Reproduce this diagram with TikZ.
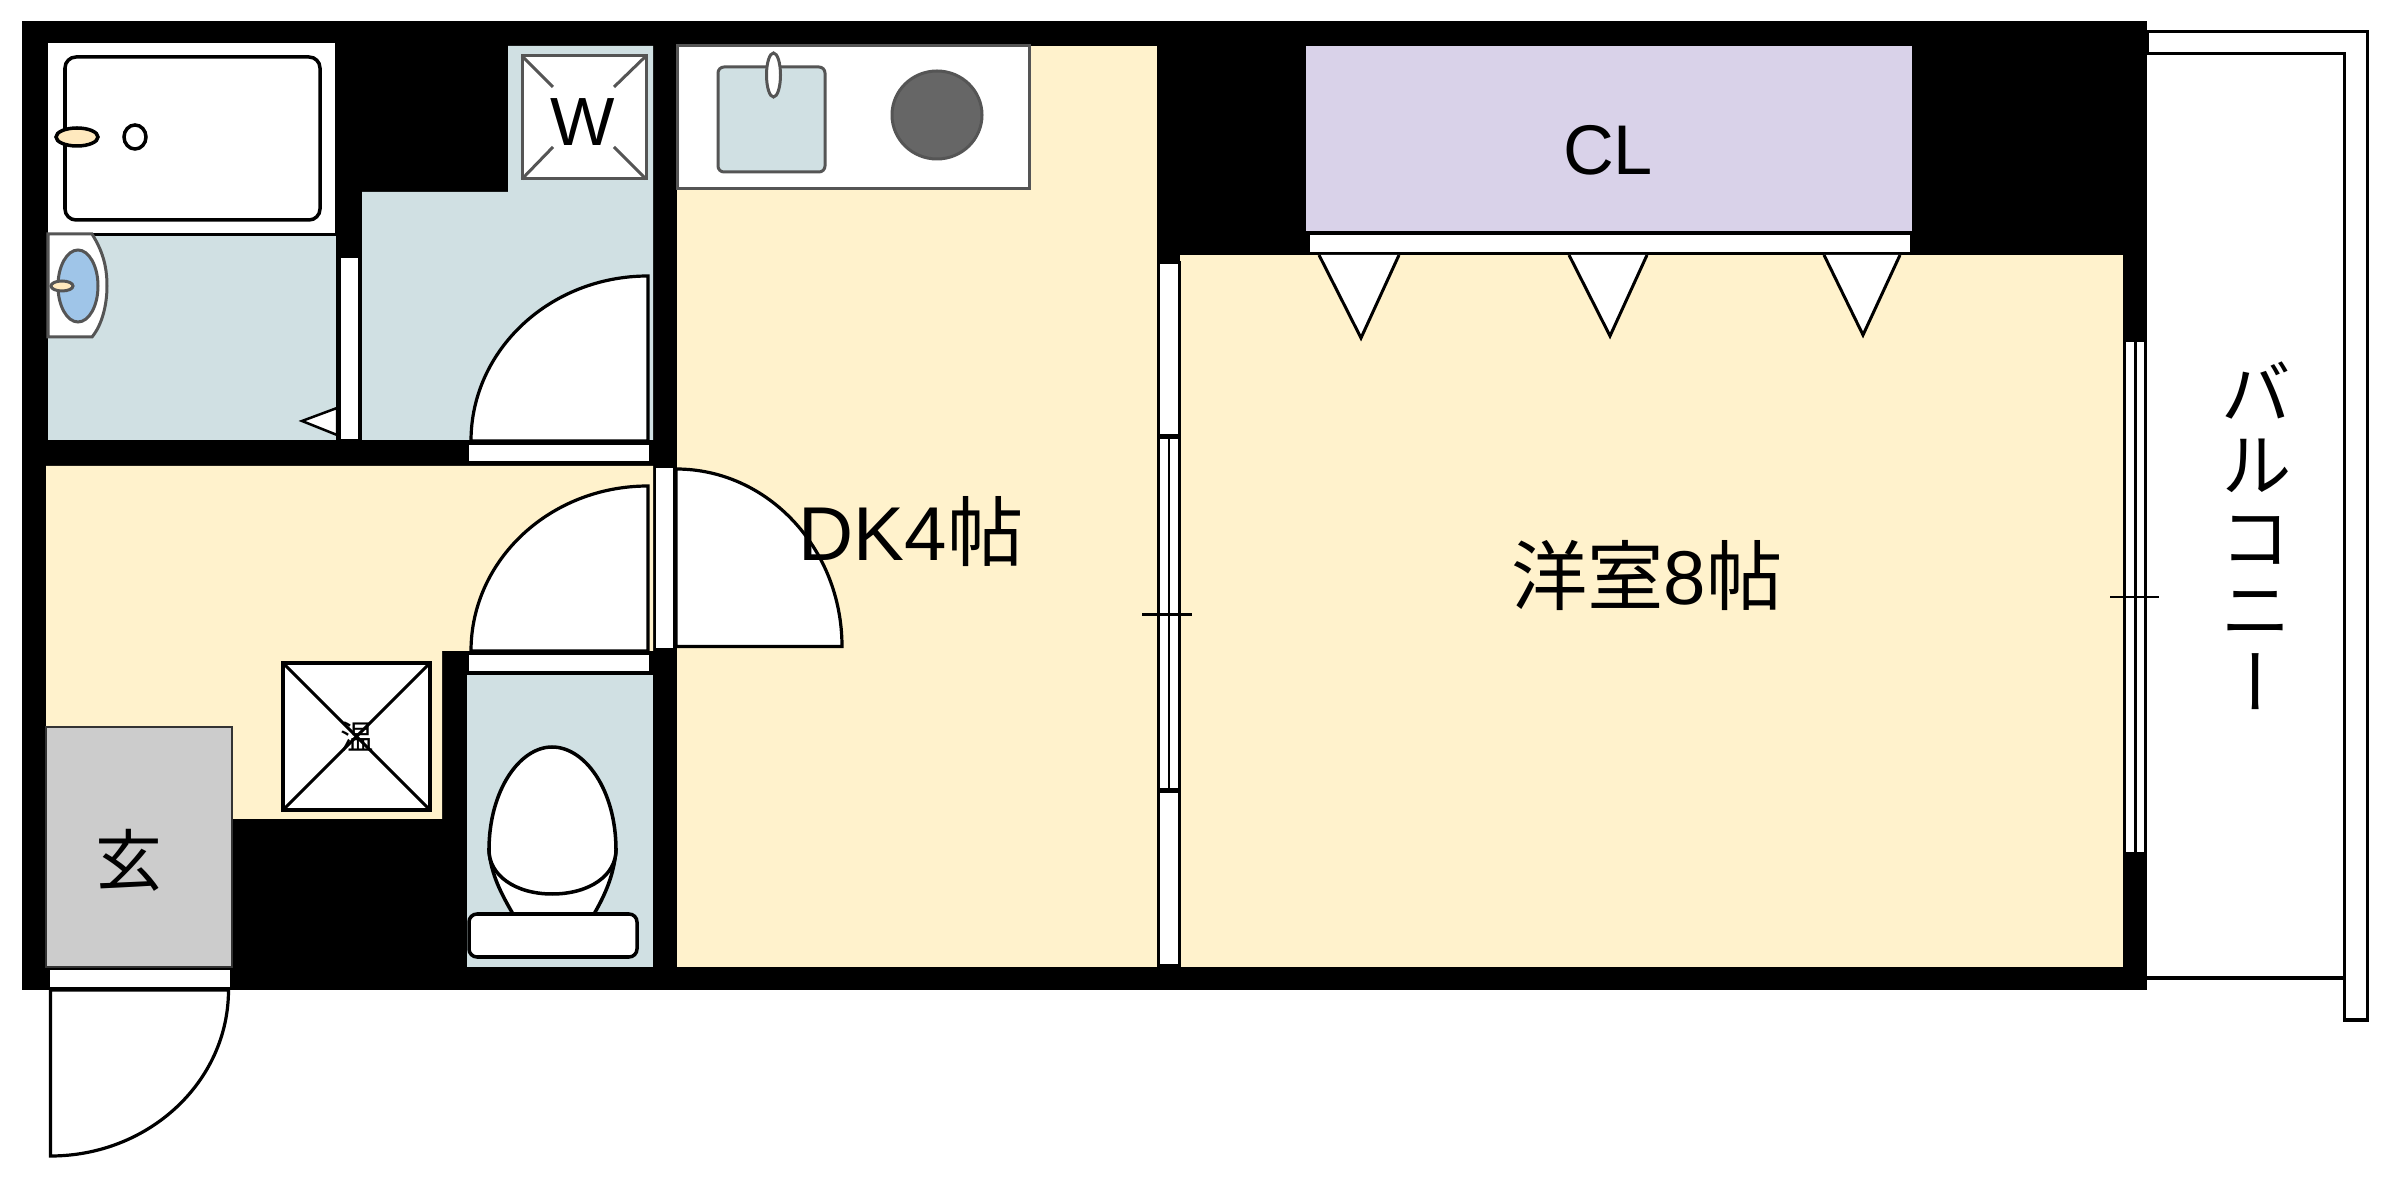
\documentclass[tikz,border=0pt]{standalone}
\usepackage{fontspec}
\setmainfont{Liberation Sans}
\newfontfamily\cjk{Noto Sans CJK JP}
\newfontfamily\cjkv[RawFeature=+vert]{Noto Sans CJK JP}
\definecolor{roomcream}{HTML}{FFF2CC}
\definecolor{roomwet}{HTML}{D0E0E3}
\definecolor{roomcl}{HTML}{D9D2E9}
\definecolor{roomgenkan}{HTML}{CCCCCC}
\definecolor{fixline}{HTML}{555555}
\definecolor{sinkblue}{HTML}{9FC5E8}
\definecolor{tapcream}{HTML}{FFE9BE}
\tikzset{
	px/.style={x=0.01cm,y=-0.01cm},
	wetfloor/.style={fill=roomwet},
	creamfloor/.style={fill=roomcream},
	doorleaf/.style={draw=black,fill=white,line width=0.032cm},
	sillbox/.style={draw=black,fill=white,line width=0.012cm},
	fixture/.style={draw=fixline,fill=white,line width=0.03cm},
	lineblack/.style={draw=black,fill=white,line width=0.035cm},
	biglabel/.style={inner sep=0pt,font=\fontsize{21.7}{21.7}\selectfont}
}
\begin{document}
\begin{tikzpicture}[px]
	\useasboundingbox (0,0) rectangle (2400,1186);

	\filldraw[lineblack,line width=0.03cm] (2147,32) -- (2367,32) -- (2367,1020) -- (2344,1020) -- (2344,54) -- (2147,54) -- cycle;
	\draw[black,line width=0.03cm] (2147,978) -- (2344,978);

	\fill[black] (22,21) rectangle (2147,990);

	\fill[white] (48,43) rectangle (335,233);
	\filldraw[lineblack,rounded corners=0.11cm] (65,57) rectangle (320,220);
	\filldraw[lineblack,fill=tapcream] (77,137) ellipse [x radius=21,y radius=9];
	\filldraw[lineblack] (135,137) ellipse [x radius=11,y radius=12];

	\fill[wetfloor] (48,236) rectangle (336,440);
	\filldraw[fixture] (48,234) -- (92,234) .. controls (102,250) and (107,265) .. (107,286) .. controls (107,305) and (102,325) .. (92,337) -- (48,337) -- cycle;
	\filldraw[fixture,fill=sinkblue] (78,286) ellipse [x radius=20,y radius=36];
	\filldraw[fixture,fill=tapcream] (62,286) ellipse [x radius=11,y radius=5];
	\filldraw[lineblack,line width=0.025cm] (337,408) -- (302,421) -- (337,435) -- cycle;
	\fill[white] (341,258) rectangle (358,439);

	\fill[wetfloor] (362,192) -- (508,192) -- (508,46) -- (653,46) -- (653,440) -- (362,440) -- cycle;
	\filldraw[fixture] (522,56) rectangle (646,179);
	\draw[fixline,line width=0.03cm] (522,56) -- (553,87);
	\draw[fixline,line width=0.03cm] (646,56) -- (614,87);
	\draw[fixline,line width=0.03cm] (522,179) -- (553,147);
	\draw[fixline,line width=0.03cm] (646,179) -- (614,147);
	\node[inner sep=0pt,font=\fontsize{19.4}{19.4}\selectfont] (washer) at (583,122) {W};
	\filldraw[doorleaf] (471,441) arc[start angle=180,end angle=270,x radius=177,y radius=165] -- (648,441) -- cycle;
	\filldraw[sillbox] (468,444) rectangle (650,462);

	\fill[creamfloor] (46,466) -- (653,466) -- (653,651) -- (442,651) -- (442,819) -- (232,819) -- (232,727) -- (46,727) -- cycle;
	\filldraw[draw=black!80,fill=roomgenkan,line width=0.015cm] (46,727) rectangle (232,967);
	\node[inner sep=0pt,font=\fontsize{19}{19}\selectfont\cjk] (genkan) at (129,860) {玄};
	\filldraw[sillbox] (49,969) rectangle (231,988);
	\filldraw[doorleaf] (228.5,990) arc[start angle=0,end angle=90,x radius=178,y radius=166] -- (50.5,990) -- cycle;

	\filldraw[lineblack] (283,663) rectangle (430,810);
	\draw[black,line width=0.03cm] (283,663) -- (430,810);
	\draw[black,line width=0.03cm] (430,663) -- (283,810);
	\node[inner sep=0pt,font=\fontsize{9.5}{9.5}\selectfont\cjk] (heater) at (357,737) {温};

	\filldraw[doorleaf] (471,651) arc[start angle=180,end angle=270,x radius=177,y radius=165] -- (648,651) -- cycle;
	\filldraw[sillbox] (468,654) rectangle (650,672);
	\filldraw[sillbox] (655,467) rectangle (674,649);

	\fill[wetfloor] (467,675) rectangle (653,967);
	\filldraw[lineblack] (489,850) .. controls (491,875) and (502,895) .. (513,914) -- (594,914) .. controls (605,895) and (614,875) .. (616,850) -- cycle;
	\filldraw[lineblack] (489,850) .. controls (489,790) and (520,747) .. (552,747) .. controls (585,747) and (616,790) .. (616,850) .. controls (616,875) and (590,894) .. (552,894) .. controls (515,894) and (489,875) .. (489,850) -- cycle;
	\filldraw[lineblack,rounded corners=0.08cm] (469,914) rectangle (637,957);

	\fill[creamfloor] (677,46) rectangle (1156.5,967);
	\filldraw[fixture] (677,46) rectangle (1029.5,189);
	\filldraw[fixture,fill=roomwet,rounded corners=0.06cm] (718,67) rectangle (825,172);
	\filldraw[fixture] (773.5,75) ellipse [x radius=7,y radius=22];
	\filldraw[fixture,fill=fixline!90!white] (937,115) ellipse [x radius=45,y radius=44];
	\filldraw[doorleaf] (842,646.5) arc[start angle=0,end angle=-90,x radius=166,y radius=177.5] -- (676,646.5) -- cycle;
	\node[biglabel] (dk) at (911,532) {DK4{\cjk 帖}};

	\fill[creamfloor] (1180,255.5) rectangle (2122.5,967);
	\filldraw[draw=none,fill=roomcl] (1306,46) rectangle (1912,231);
	\node[inner sep=0pt,font=\fontsize{20}{20}\selectfont] (closet) at (1608,150) {CL};
	\filldraw[sillbox] (1309,234) rectangle (1911,253);
	\filldraw[lineblack,line width=0.03cm] (1319,255) -- (1361,338) -- (1399,255);
	\filldraw[lineblack,line width=0.03cm] (1569,255) -- (1610,336) -- (1647,255);
	\filldraw[lineblack,line width=0.03cm] (1824,255) -- (1863,335) -- (1900,255);
	\node[biglabel] (room) at (1647,575) {{\cjk 洋室}8{\cjk 帖}};

	\filldraw[sillbox,line width=0.03cm] (1158,263) rectangle (1179,436);
	\filldraw[sillbox,line width=0.03cm] (1158,438) rectangle (1179,790);
	\draw[black,line width=0.02cm] (1168.5,438) -- (1168.5,790);
	\filldraw[sillbox,line width=0.03cm] (1158,792) rectangle (1179,966);
	\draw[black,line width=0.03cm] (1142,615) -- (1192,615);

	\filldraw[sillbox] (2125.5,341) rectangle (2145,853);
	\draw[black,line width=0.03cm] (2135.5,341) -- (2135.5,853);
	\draw[black,line width=0.02cm] (2110,597) -- (2159,597);

	\node[inner sep=0pt,align=center,font=\fontsize{20.3}{20.65}\selectfont\cjkv] (balcony) at (2256,535.5) {バ\\ル\\コ\\ニ\\ー};
\end{tikzpicture}
\end{document}
